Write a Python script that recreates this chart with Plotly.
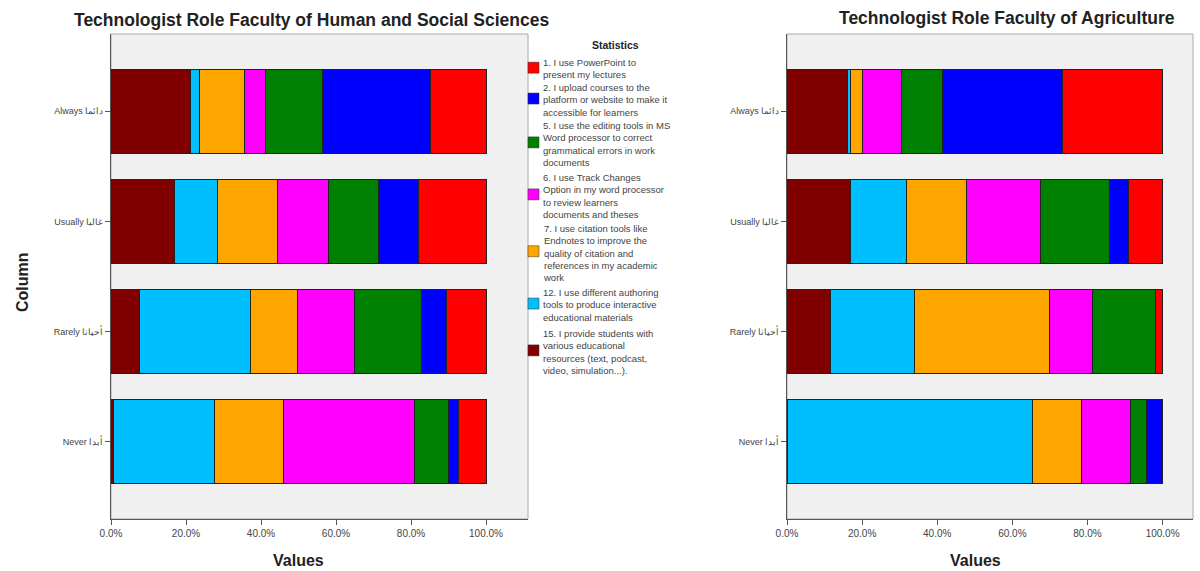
import plotly.graph_objects as go

categories = ["Always دائما", "Usually غالبا", "Rarely أحيانا", "Never أبدا"]

# stacking order left→right: 15, 12, 7, 6, 5, 2, 1
series_names = [
    "15. I provide students with<br>various educational<br>resources (text, podcast,<br>video, simulation...).",
    "12. I use different authoring<br>tools to produce interactive<br>educational materials",
    "7. I use citation tools like<br>Endnotes to improve the<br>quality of citation and<br>references in my academic<br>work",
    "6. I use Track Changes<br>Option in my word processor<br>to review learners<br>documents and theses",
    "5. I use the editing tools in MS<br>Word processor to correct<br>grammatical errors in work<br>documents",
    "2. I upload courses to the<br>platform or website to make it<br>accessible for learners",
    "1. I use PowerPoint to<br>present my lectures",
]
colors = ["#800000", "#00BFFF", "#FFA500", "#FF00FF", "#008000", "#0000FF", "#FF0000"]

# Human and Social Sciences (% per category: Always, Usually, Rarely, Never)
hss = [
    [21.3, 16.9, 7.7, 0.6],
    [2.4, 11.5, 29.4, 27.1],
    [12.0, 16.0, 12.6, 18.4],
    [5.4, 13.6, 15.3, 34.7],
    [15.2, 13.3, 17.8, 9.1],
    [28.8, 10.7, 6.7, 2.7],
    [14.9, 18.0, 10.5, 7.4],
]
# Agriculture
agr = [
    [16.1, 17.0, 11.6, 0.0],
    [0.8, 14.8, 22.4, 65.3],
    [3.1, 16.0, 36.0, 13.1],
    [10.4, 19.7, 11.3, 13.1],
    [11.0, 18.3, 16.9, 4.2],
    [31.9, 5.0, 0.0, 4.3],
    [26.7, 9.2, 1.8, 0.0],
]

xticks = [0, 20, 40, 60, 80, 100]
xticklabels = ["0.0%", "20.0%", "40.0%", "60.0%", "80.0%", "100.0%"]

W, H = 1200, 571
FONT = "Liberation Sans, Arial, sans-serif"

fig = go.Figure()
for i in range(len(series_names)):
    fig.add_trace(go.Bar(
        x=hss[i], y=categories, orientation="h", name=series_names[i],
        marker=dict(color=colors[i], line=dict(color="#222222", width=1)),
        xaxis="x", yaxis="y",
    ))
for i in range(len(series_names)):
    fig.add_trace(go.Bar(
        x=agr[i], y=categories, orientation="h", name=series_names[i],
        marker=dict(color=colors[i], line=dict(color="#222222", width=1)),
        xaxis="x2", yaxis="y2",
    ))

axis_common = dict(
    showgrid=False, zeroline=False, showline=True, linecolor="#555555", linewidth=1,
    ticks="outside", ticklen=5, tickcolor="#555555", mirror=False, automargin=False,
)
xfont = dict(family=FONT, size=10, color="#444444")
yfont = dict(family=FONT, size=9, color="#444444")
ydom = [1 - 519 / H, 1 - 34 / H]
fig.update_layout(
    width=W, height=H,
    margin=dict(l=0, r=0, t=0, b=0, autoexpand=False),
    paper_bgcolor="white", plot_bgcolor="#F0F0F0",
    barmode="stack", bargap=0.24, showlegend=False,
    font=dict(family=FONT, color="#222222"),
    xaxis=dict(domain=[111 / W, 528 / W], range=[0, 111.2], tickvals=xticks,
               ticktext=xticklabels, anchor="y", tickfont=xfont, **axis_common),
    yaxis=dict(domain=ydom, range=[3.7, -0.7], anchor="x", categoryorder="array",
               categoryarray=categories, tickfont=yfont, **axis_common),
    xaxis2=dict(domain=[787 / W, 1193 / W], range=[0, 108.1], tickvals=xticks,
                ticktext=xticklabels, anchor="y2", tickfont=xfont, **axis_common),
    yaxis2=dict(domain=ydom, range=[3.7, -0.7], anchor="x2", categoryorder="array",
                categoryarray=categories, tickfont=yfont, **axis_common),
)

# frames of plot areas (light border)
for xd in [(111 / W, 528 / W), (787 / W, 1193 / W)]:
    fig.add_shape(type="rect", xref="paper", yref="paper", x0=xd[0], x1=xd[1],
                  y0=ydom[0], y1=ydom[1], line=dict(color="#AAAAAA", width=1),
                  fillcolor="rgba(0,0,0,0)", layer="below")

# manual legend (listed top to bottom: 1, 2, 5, 6, 7, 12, 15)
legend_tops = [56, 81, 119, 171, 222, 286, 327]
line_h = 11.7
for k, idx in enumerate(range(len(series_names) - 1, -1, -1)):
    name = series_names[idx]
    nlines = name.count("<br>") + 1
    top = legend_tops[k]
    mid = top + nlines * line_h / 2
    fig.add_shape(type="rect", xref="paper", yref="paper",
                  x0=528 / W, x1=539 / W, y0=1 - (mid - 5.5) / H, y1=1 - (mid + 5.5) / H,
                  fillcolor=colors[idx], line=dict(color="#333333", width=0.5))
    fig.add_annotation(text=name, x=542 / W, y=1 - top / H, xref="paper", yref="paper",
                       xanchor="left", yanchor="top", align="left", showarrow=False,
                       font=dict(family=FONT, size=9.5, color="#444444"), borderpad=0)


def label(text, x, y, size, angle=0):
    fig.add_annotation(text=text, x=x / W, y=1 - y / H, xref="paper", yref="paper",
                       xanchor="center", yanchor="middle", showarrow=False, textangle=angle,
                       font=dict(family=FONT, size=size, color="#222222"))


label("<b>Statistics</b>", 615, 45, 10.5)
label("<b>Technologist Role Faculty of Human and Social Sciences</b>", 311, 20, 17.5)
label("<b>Technologist Role Faculty of Agriculture</b>", 1007, 18, 17.5)
label("<b>Values</b>", 298, 560, 16)
label("<b>Values</b>", 975, 560, 16)
label("<b>Column</b>", 22, 282, 16, -90)

fig.write_html("out.html", post_script="document.body.style.margin='0';",
               config={"displayModeBar": False})
